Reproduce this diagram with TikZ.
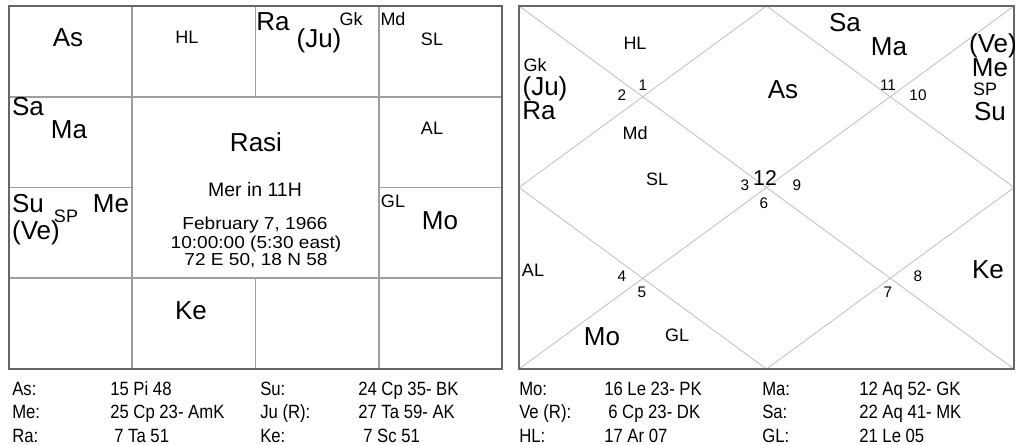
\documentclass[tikz,border=0pt]{standalone}
\usepackage{fontspec}
\setmainfont{Liberation Sans}
\usetikzlibrary{positioning}
\definecolor{framegray}{gray}{0.40}
\definecolor{linegray}{gray}{0.62}
\definecolor{diaggray}{gray}{0.74}
\newfontfamily\tablefont[FakeStretch=0.87]{Liberation Sans}
\newfontfamily\infofont[FakeStretch=1.1]{Liberation Sans}
\pgfmathsetmacro{\chartbig}{19.5}
\pgfmathsetmacro{\chartsmall}{13.5}
\tikzset{
  chartframe/.style={draw=framegray, line width=1.3pt},
  cellline/.style={draw=linegray, line width=0.8pt},
  diagline/.style={draw=diaggray, line width=0.6pt},
  planet/.style={inner sep=0pt, font=\fontsize{\chartbig}{\chartbig}\selectfont},
  special/.style={inner sep=0pt, font=\fontsize{\chartsmall}{\chartsmall}\selectfont},
  housenum/.style={inner sep=0pt, font=\fontsize{11.5}{11.5}\selectfont},
  infoline/.style={inner sep=0pt, anchor=base, font=\infofont\fontsize{13}{13}\selectfont},
  tabtext/.style={inner sep=0pt, anchor=base west, font=\tablefont\fontsize{14.4}{14.4}\selectfont},
}

\begin{document}
\begin{tikzpicture}[x=0.75pt, y=-0.75pt]
    \useasboundingbox (0,0) rectangle (1024,445);
    % define corners
    % rasi chart
    \coordinate (r_nw) at (9,6);
    \coordinate (r_se) at (502,369);
    % diamond chart
    \coordinate (n_nw) at (519,6);
    \coordinate (n_ne) at (1014,6);
    \coordinate (n_sw) at (519,369);
    \coordinate (n_se) at (1014,369);
    \coordinate (n_top) at (766.5,6);
    \coordinate (n_left) at (519,187.5);
    \coordinate (n_bot) at (766.5,369);
    \coordinate (n_right) at (1014,187.5);
    % draw rasi grid
    \draw[cellline] (132,6) -- (132,369);
    \draw[cellline] (379,6) -- (379,369);
    \draw[cellline] (255.5,6) -- (255.5,97);
    \draw[cellline] (255.5,278) -- (255.5,369);
    \draw[cellline] (9,97) -- (502,97);
    \draw[cellline] (9,278) -- (502,278);
    \draw[cellline] (9,187.5) -- (132,187.5);
    \draw[cellline] (379,187.5) -- (502,187.5);
    \draw[chartframe] (r_nw) rectangle (r_se);
    % draw diamond chart
    \draw[diagline] (n_nw) -- (n_se);
    \draw[diagline] (n_ne) -- (n_sw);
    \draw[diagline] (n_top) -- (n_right) -- (n_bot) -- (n_left) -- cycle;
    \draw[chartframe] (n_nw) rectangle (n_se);
    % rasi chart labels
    \node[planet] (r_as) at (68,38) {As};
    \node[special] (r_hl) at (187,37) {HL};
    \node[planet] (r_ra) at (273,22) {Ra};
    \node[planet] (r_ju) at (319,41) {(Ju)};
    \node[special] (r_gk) at (351,19) {Gk};
    \node[special] (r_md) at (393,19) {Md};
    \node[special] (r_sl) at (432,39) {SL};
    \node[planet] (r_sa) at (28,107) {Sa};
    \node[planet] (r_ma) at (69,130) {Ma};
    \node[special] (r_al) at (432,128) {AL};
    \node[planet] (r_su) at (28,204) {Su};
    \node[special] (r_sp) at (66,216) {SP};
    \node[planet] (r_me) at (111,204) {Me};
    \node[planet] (r_ve) at (36,233) {(Ve)};
    \node[special] (r_gl) at (393,201) {GL};
    \node[planet] (r_mo) at (440,221) {Mo};
    \node[planet] (r_ke) at (191,311) {Ke};
    % centre block
    \node[planet, anchor=base] (r_title) at (256,152) {Rasi};
    \node[infoline, font=\fontsize{14.6}{14.6}\selectfont] (r_mer) at (255,197) {Mer in 11H};
    \node[infoline] (r_date) at (255,230) {February 7, 1966};
    \node[infoline] (r_time) at (256,248) {10:00:00 (5:30 east)};
    \node[infoline] (r_place) at (256,266) {72 E 50, 18 N 58};
    % diamond chart labels
    \node[planet] (n_as) at (783,90) {As};
    \node[planet] (n_sa) at (845,23) {Sa};
    \node[planet] (n_ma) at (889,47) {Ma};
    \node[planet] (n_ve) at (993,46) {(Ve)};
    \node[special] (n_sp) at (985,89) {SP};
    \node[planet] (n_me) at (990,68) {Me};
    \node[planet] (n_su) at (990,112) {Su};
    \node[special] (n_gk) at (535,65) {Gk};
    \node[planet] (n_ju) at (545,89) {(Ju)};
    \node[planet] (n_ra) at (539,111) {Ra};
    \node[special] (n_hl) at (635,43) {HL};
    \node[special] (n_md) at (635,133) {Md};
    \node[special] (n_sl) at (657,179) {SL};
    \node[special] (n_al) at (533,270) {AL};
    \node[planet] (n_mo) at (602,337) {Mo};
    \node[special] (n_gl) at (677,335) {GL};
    \node[planet] (n_ke) at (988,270) {Ke};
    % house numbers
    \node[housenum] (h1) at (643,85) {1};
    \node[housenum] (h2) at (622,95) {2};
    \node[housenum] (h3) at (745,185) {3};
    \node[housenum] (h4) at (622,276) {4};
    \node[housenum] (h5) at (642,292) {5};
    \node[housenum] (h6) at (764,203) {6};
    \node[housenum] (h7) at (888,292) {7};
    \node[housenum] (h8) at (918,276) {8};
    \node[housenum] (h9) at (797,185) {9};
    \node[housenum] (h10) at (918,95) {10};
    \node[housenum] (h11) at (888,85) {11};
    \node[housenum, font=\fontsize{16}{16}\selectfont] (h12) at (765,178) {12};
    % position table
    \foreach \nm/\x/\y/\txt in {
        t_as/12/395/As:, t_asv/110/395/15 Pi 48,
        t_su/260/395/Su:, t_suv/358/395/24 Cp 35- BK,
        t_mo/519/395/Mo:, t_mov/604/395/16 Le 23- PK,
        t_ma/762/395/Ma:, t_mav/859/395/12 Aq 52- GK,
        t_me/12/418/Me:, t_mev/110/418/25 Cp 23- AmK,
        t_ju/260/418/Ju (R):, t_juv/358/418/27 Ta 59- AK,
        t_ve/519/418/Ve (R):, t_vev/608/418/6 Cp 23- DK,
        t_sa/762/418/Sa:, t_sav/859/418/22 Aq 41- MK,
        t_ra/12/442/Ra:, t_rav/114/442/7 Ta 51,
        t_ke/260/442/Ke:, t_kev/363/442/7 Sc 51,
        t_hl/519/442/HL:, t_hlv/604/442/17 Ar 07,
        t_gl/762/442/GL:, t_glv/859/442/21 Le 05}
      \node[tabtext] (\nm) at (\x,\y) {\txt};
\end{tikzpicture}
\end{document}
